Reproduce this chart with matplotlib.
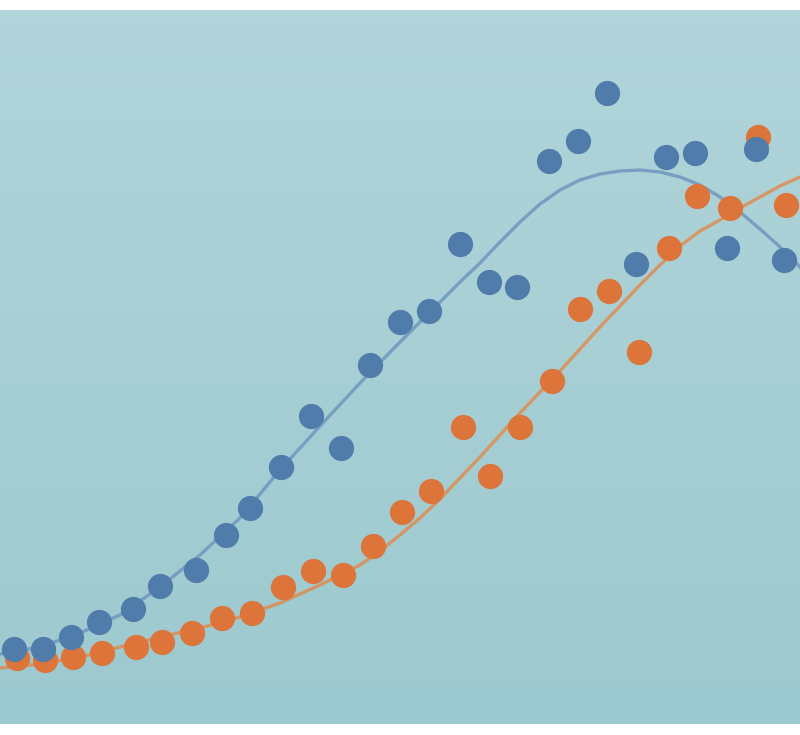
import numpy as np
import matplotlib
matplotlib.use("Agg")
import matplotlib.pyplot as plt
from matplotlib.colors import LinearSegmentedColormap

# titik biru (x, tinggi)
biru_x = [14, 43, 71, 99, 133, 160, 196, 226, 250, 281, 311, 341, 370, 400,
          429, 460, 489, 517, 549, 578, 607, 636, 666, 695, 727, 756, 784]
biru_y = [75, 75, 87, 102, 115, 138, 154, 189, 216, 257, 308, 276, 359, 402,
          413, 480, 442, 437, 563, 583, 631, 460, 567, 571, 476, 575, 464]

# titik oranye
oranye_x = [17, 45, 73, 102, 136, 162, 192, 222, 252, 283, 313, 343, 373, 402,
            431, 463, 490, 520, 552, 580, 609, 639, 669, 697, 730, 758, 786]
oranye_y = [66, 64, 67, 71, 77, 82, 91, 106, 111, 137, 153, 149, 178, 212,
            233, 297, 248, 297, 343, 415, 433, 372, 476, 528, 516, 587, 519]

# garis tren biru
gb_x = [0, 40, 80, 120, 160, 200, 240, 280, 320, 360, 400, 440, 460, 480,
        500, 520, 540, 560, 580, 600, 620, 640, 660, 680, 700, 720,
        740, 760, 780, 800]
gb_y = [70, 77, 91, 109, 137, 169, 206, 254, 298, 341, 382, 422, 442, 461,
        482, 502, 520, 534, 544, 550, 553, 554, 552, 547, 539, 527,
        512, 495, 477, 457]

# garis tren oranye
go_x = [0, 40, 80, 120, 160, 200, 240, 280, 320, 360, 380, 400, 420,
        440, 480, 520, 560, 600, 640, 660, 680, 700, 720, 740, 760,
        780, 800]
go_y = [56, 60, 67, 77, 87, 96, 107, 121, 139, 159, 173, 189, 206,
        225, 267, 311, 353, 397, 439, 459, 478, 493, 504, 516, 527,
        538, 547]

fig = plt.figure(figsize=(8, 7.35), dpi=100)
ax = fig.add_axes([0, 11 / 735, 1, 714 / 735])
ax.set_xlim(0, 800)
ax.set_ylim(0, 714)
ax.axis("off")

# latar belakang
cmap = LinearSegmentedColormap.from_list("bg", ["#9cc9cf", "#b1d5da"])
ax.imshow(np.linspace(0, 1, 100).reshape(-1, 1), cmap=cmap, aspect="auto",
          extent=[0, 800, 0, 714], origin="lower", zorder=0)

ax.plot(gb_x, gb_y, color="#6f97bf", lw=2.4, alpha=0.85, zorder=2,
        solid_joinstyle="round")
ax.plot(go_x, go_y, color="#e0894a", lw=2.4, alpha=0.8, zorder=3,
        solid_joinstyle="round")
ax.scatter(oranye_x, oranye_y, s=330, color="#dd7439", lw=0, zorder=4)
ax.scatter(biru_x, biru_y, s=330, color="#507cab", lw=0, zorder=5)

plt.savefig("out.png", dpi=100)
